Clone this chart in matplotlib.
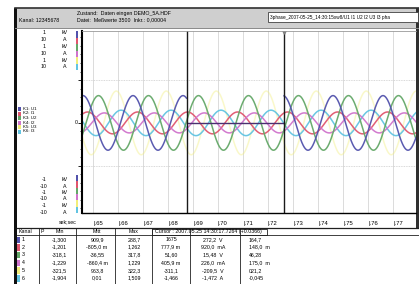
import numpy as np
import matplotlib.pyplot as plt
from matplotlib.patches import Rectangle

plt.rcParams['font.family'] = ['Liberation Sans', 'DejaVu Sans']

# channel data
channel_names = ['K1: U1', 'K2: I1', 'K3: U2', 'K4: I2', 'K5: U3', 'K6: I3']
channel_colors = ['#5252ac', '#e0566e', '#64a868', '#d074cc', '#f2ee7a', '#62c4e2']
amplitudes = [0.30, 0.12, 0.30, 0.11, 0.35, 0.14]
peak_times = [0.6860, 0.6878, 0.6922, 0.6945, 0.6793, 0.7012]
freq_hz = 50.0
cursor_times = [0.6874, 0.7264]

scale_top = ['1', '10', '1', '10', '1', '10']
scale_bottom = ['-1', '-10', '-1', '-10', '-1', '-10']
scale_units = ['kV', 'A', 'kV', 'A', 'kV', 'A']

x_ticks = [0.65, 0.66, 0.67, 0.68, 0.69, 0.70, 0.71, 0.72, 0.73, 0.74, 0.75, 0.76, 0.77]
x_labels = ['|.65', '|.66', '|.67', '|.68', '|.69', '|.70', '|.71', '|.72', '|.73',
            '|.74', '|.75', '|.76', '|.77']

kanal = ['1', '2', '3', '4', '5', '6']
min_vals = ['-1,300', '-1,201', '-318,1', '-1,229', '-321,5', '-1,904']
mitt_vals = ['909,9', '-805,0 m', '-36,55', '-860,4 m', '963,8', '0,01']
max_vals = ['288,7', '1,262', '317,8', '1,229', '322,3', '1,509']
cur_a = ['1675', '777,9 m', '51,60', '405,9 m', '-311,1', '-1,466']
cur_b = ['272,2  V', '920,0  mA', '15,48  V', '226,0  mA', '-209,5  V', '-1,472  A']
cur_c = ['164,7', '148,0  m', '46,28', '175,0  m', '021,2', '-0,045']

W, H = 419, 284
fig = plt.figure(figsize=(W / 100, H / 100), dpi=100)

# background layer in pixel coordinates
bg = fig.add_axes([0, 0, 1, 1])
bg.set_xlim(0, W)
bg.set_ylim(H, 0)
bg.axis('off')

bg.add_patch(Rectangle((15, 8), W - 15, 20, facecolor='#cfcfcf', edgecolor='none'))
bg.plot([15, W], [8, 8], color='#303030', lw=1.2)
bg.plot([15, W], [28, 28], color='#8a8a8a', lw=0.7)
bg.add_patch(Rectangle((13.5, 8), 3, H - 8, facecolor='#101010', edgecolor='none'))
bg.add_patch(Rectangle((416, 8), 3, 220, facecolor='#303030', edgecolor='none'))

fs = 3.8
bg.text(77, 13.5, 'Zustand:  Daten eingen DEMO_5A.HDF', fontsize=fs, va='center')
bg.text(77, 20, 'Datei:  Meßwerte 3500  Inkr.: 0,00004', fontsize=fs, va='center')
bg.text(19, 20, 'Kanal: 12345678', fontsize=fs, va='center')
bg.add_patch(Rectangle((268, 12), 150, 10, facecolor='white', edgecolor='#404040', lw=0.6))
bg.text(270, 17, '3phase_2007-05-25_14:30:15xw8/U1 I1 U2 I2 U3 I3 pha', fontsize=3.4,
        va='center', clip_on=True)

# scale labels and colour bars on the left
for i in range(6):
    yt = 33 + 6.8 * i
    yb = 179.5 + 6.5 * i
    bg.text(44, yt, scale_top[i], fontsize=fs, ha='center', va='center')
    bg.text(65, yt, scale_units[i], fontsize=fs, ha='center', va='center')
    bg.text(44, yb, scale_bottom[i], fontsize=fs, ha='center', va='center')
    bg.text(65, yb, scale_units[i], fontsize=fs, ha='center', va='center')
    bg.add_patch(Rectangle((75.5, 31 + 6.5 * i), 2, 6.5, facecolor=channel_colors[i],
                           edgecolor='none'))
    bg.add_patch(Rectangle((75.5, 175 + 6.3 * i), 2, 6.3, facecolor=channel_colors[i],
                           edgecolor='none'))
    # legend
    yl = 109 + 4.5 * i
    bg.add_patch(Rectangle((17.5, yl - 2), 3.5, 4, facecolor=channel_colors[i], edgecolor='none'))
    bg.text(22.5, yl, channel_names[i], fontsize=3.2, va='center')

bg.text(77.5, 123, '0', fontsize=fs, ha='right', va='center')
bg.text(77, 222, 'sek;sec', fontsize=fs, ha='right', va='center')

# table
col_lines = [39, 76, 115, 152, 190, 240]
bg.plot([17, W], [228, 228], color='#202020', lw=0.9)
bg.plot([17, W], [235, 235], color='#202020', lw=0.6)
for xc in col_lines:
    bg.plot([xc, xc], [228, H], color='#202020', lw=0.6)
bg.add_patch(Rectangle((152, 228.5), 115, 6, facecolor='none', edgecolor='#202020', lw=0.6))
bg.text(19, 231.5, 'Kanal', fontsize=fs, va='center')
bg.text(41, 231.5, 'P', fontsize=fs, va='center')
bg.text(60, 231.5, 'Min', fontsize=fs, ha='center', va='center')
bg.text(97, 231.5, 'Mitt', fontsize=fs, ha='center', va='center')
bg.text(134, 231.5, 'Max', fontsize=fs, ha='center', va='center')
bg.text(155, 231.5, 'Cursor : 2007.05.25 14:30:17.7264 (+0.0366)', fontsize=fs, va='center')
for i in range(6):
    yr = 239.5 + 7.7 * i
    bg.add_patch(Rectangle((17, yr - 3), 3, 6.5, facecolor=channel_colors[i], edgecolor='none'))
    bg.text(22, yr, kanal[i], fontsize=fs, va='center')
    bg.text(59, yr, min_vals[i], fontsize=fs, ha='center', va='center')
    bg.text(97, yr, mitt_vals[i], fontsize=fs, ha='center', va='center')
    bg.text(134, yr, max_vals[i], fontsize=fs, ha='center', va='center')
    bg.text(171, yr, cur_a[i], fontsize=fs, ha='center', va='center')
    bg.text(213, yr, cur_b[i], fontsize=fs, ha='center', va='center')
    bg.text(249, yr, cur_c[i], fontsize=fs, va='center')

# waveform axes
x0, x1, y0, y1 = 82, 416, 31, 213
ax = fig.add_axes([x0 / W, 1 - y1 / H, (x1 - x0) / W, (y1 - y0) / H])
ax.set_xlim(0.65 - 11 / 2500, 0.65 + 323 / 2500)
ax.set_ylim(-0.99, 1.01)
ax.set_facecolor('white')

for xt in x_ticks:
    ax.axvline(xt, color='#d6d6d6', lw=0.6, zorder=0)
for yg in [-0.47, 0.47]:
    ax.axhline(yg, color='#cccccc', lw=0.6, ls=(0, (1, 1)), zorder=0)

t = np.linspace(ax.get_xlim()[0], ax.get_xlim()[1], 3000)
order = [4, 5, 1, 3, 2, 0]
for i in order:
    y = amplitudes[i] * np.cos(2 * np.pi * freq_hz * (t - peak_times[i]))
    if i == 0:
        y = np.where((t > cursor_times[0]) & (t < cursor_times[1]), np.nan, y)
    alpha = 0.4 if i == 4 else 0.95
    ax.plot(t, y, color=channel_colors[i], lw=1.1, alpha=alpha)

ax.plot(cursor_times, [0, 0], color='#4a3070', lw=1.0)
for ct in cursor_times:
    ax.axvline(ct, color='#1a1a1a', lw=1.0)
ax.plot([cursor_times[1]], [1.0], marker='v', color='#808080', ms=2.5)

ax.set_xticks(x_ticks, labels=x_labels)
ax.tick_params(axis='x', length=0, pad=6, labelsize=4.2)
for lab in ax.get_xticklabels():
    lab.set_horizontalalignment('left')
ax.set_yticks([-0.47, 0, 0.47], labels=[])
ax.set_yticks(np.arange(-0.94, 0.95, 0.094), minor=True)
ax.tick_params(axis='y', which='major', length=3, width=0.6, direction='out')
ax.tick_params(axis='y', which='minor', length=1.5, width=0.5, direction='out')
ax.spines['left'].set_linewidth(1.5)
ax.spines['bottom'].set_linewidth(1.0)
ax.spines['top'].set_color('#999999')
ax.spines['top'].set_linewidth(0.6)
ax.spines['right'].set_visible(False)

fig.savefig('out.png', dpi=100)
